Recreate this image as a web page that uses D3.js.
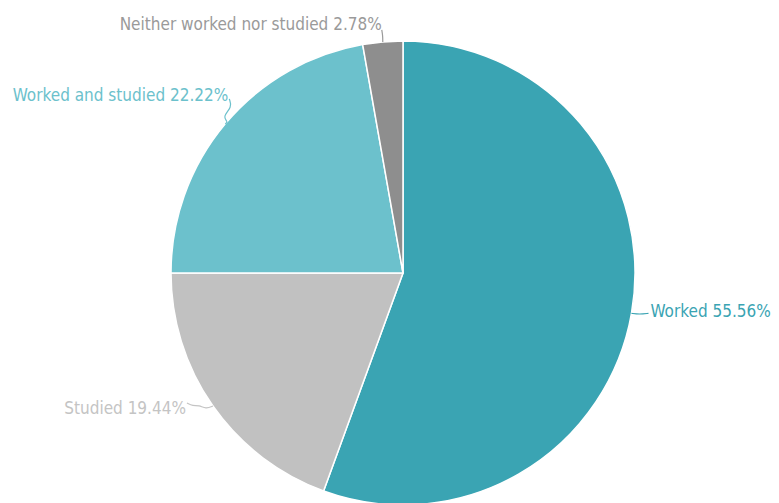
<!DOCTYPE html>
<html>
<head>
<meta charset="utf-8">
<script src="https://cdn.jsdelivr.net/npm/d3@7"></script>
<style>
  html, body { margin: 0; padding: 0; background: #fff; }
  svg { display: block; }
  text { font-family: "DejaVu Sans Condensed", "Liberation Sans Narrow", sans-serif; }
</style>
</head>
<body>
<svg id="chart" width="779" height="503"></svg>
<script>
// Activity breakdown
const categories = ["Worked", "Studied", "Worked and studied", "Neither worked nor studied"];
const shares = [55.56, 19.44, 22.22, 2.78];
const sliceColors = ["#3aa4b3", "#c1c1c1", "#6cc1cc", "#8e8e8e"];
const labelColors = ["#3aa4b3", "#c4c4c4", "#6cc1cc", "#9a9a9a"];

const width = 779, height = 503;
const cx = 403, cy = 273, radius = 232;

const svg = d3.select("#chart");
const g = svg.append("g").attr("transform", `translate(${cx},${cy})`);

const data = categories.map((c, i) => ({ name: c, value: shares[i], i }));

const pie = d3.pie().sort(null).value(d => d.value);
const arcs = pie(data);
const arc = d3.arc().innerRadius(0).outerRadius(radius);

g.selectAll("path.slice")
  .data(arcs)
  .join("path")
  .attr("class", "slice")
  .attr("d", arc)
  .attr("fill", d => sliceColors[d.data.i])
  .attr("stroke", "#fff")
  .attr("stroke-width", 1.5);

// Label layout: leader path (relative to the edge point) and text placement
const layout = [
  { leader: [[0, 0], [8, 1], [17, 0]], tx: 19, ty: 4, anchor: "start" },
  { leader: [[0, 0], [-7, 3], [-14, -1], [-20, 0], [-26, -3]], tx: -27, ty: 8, anchor: "end" },
  { leader: [[0, 0], [3, -2], [-3, -7], [7, -17], [4, -25]], tx: 3, ty: -23, anchor: "end" },
  { leader: [[0, 0], [0, -6], [-1, -12]], tx: -1, ty: -12, anchor: "end" }
];

const line = d3.line().curve(d3.curveBasis);

arcs.forEach(d => {
  const mid = (d.startAngle + d.endAngle) / 2;
  const px = radius * Math.sin(mid);
  const py = -radius * Math.cos(mid);
  const L = layout[d.data.i];
  g.append("path")
    .attr("d", line(L.leader.map(p => [px + p[0], py + p[1]])))
    .attr("fill", "none")
    .attr("stroke", labelColors[d.data.i])
    .attr("stroke-width", 1.2);
  g.append("text")
    .attr("x", px + L.tx)
    .attr("y", py + L.ty)
    .attr("text-anchor", L.anchor)
    .attr("font-size", 17)
    .attr("fill", labelColors[d.data.i])
    .text(`${d.data.name} ${d.data.value.toFixed(2)}%`);
});
</script>
</body>
</html>
